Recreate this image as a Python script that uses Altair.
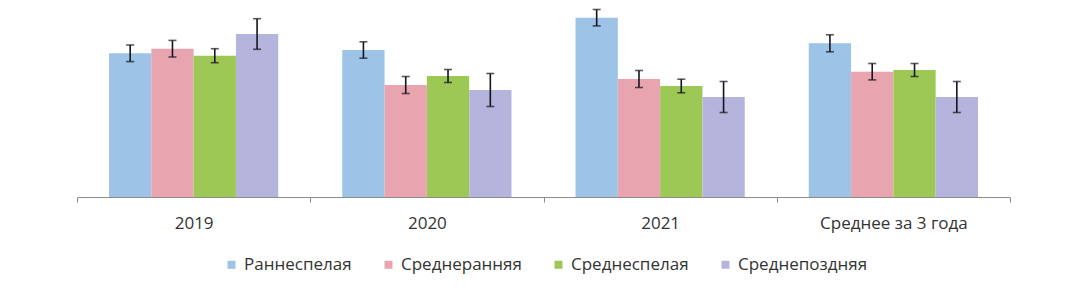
import altair as alt
import pandas as pd

categories = ["2019", "2020", "2021", "Среднее за 3 года"]
series = ["Раннеспелая", "Среднеранняя", "Среднеспелая", "Среднепоздняя"]
colors = ["#9dc3e6", "#e8a5af", "#9dc856", "#b4b4dc"]

# values (arbitrary units)
values = {
    "Раннеспелая":   [143.7, 147.0, 179.3, 153.7],
    "Среднеранняя":  [148.3, 112.0, 118.0, 125.3],
    "Среднеспелая":  [141.3, 121.0, 111.0, 127.0],
    "Среднепоздняя": [163.0, 107.0, 100.0, 100.0],
}
errors = {
    "Раннеспелая":   [8.3, 8.2, 8.2, 8.5],
    "Среднеранняя":  [8.3, 8.5, 8.5, 8.2],
    "Среднеспелая":  [7.0, 6.5, 6.8, 6.5],
    "Среднепоздняя": [15.3, 16.5, 15.5, 15.5],
}

rows = []
for s in series:
    for c, v, e in zip(categories, values[s], errors[s]):
        rows.append({"cat": c, "series": s, "value": v, "low": v - e, "high": v + e})
df = pd.DataFrame(rows)

x = alt.X("cat:N", sort=categories, title=None,
          scale=alt.Scale(paddingInner=0, paddingOuter=0),
          axis=alt.Axis(tickBand="extent", labelAngle=0, tickSize=5,
                        labelPadding=13, labelFontSize=17, labelColor="#333333",
                        labelFont="Open Sans", domainColor="#8c8c8c",
                        tickColor="#8c8c8c", labelFontWeight="normal"))
xo = alt.XOffset("series:N", sort=series,
                 scale=alt.Scale(paddingInner=0, paddingOuter=0.757))
yscale = alt.Scale(domain=[0, 185], nice=False, zero=True)

base = alt.Chart(df)

bars = base.mark_bar().encode(
    x=x, xOffset=xo,
    y=alt.Y("value:Q", scale=yscale, axis=None),
    color=alt.Color("series:N", sort=series,
                    scale=alt.Scale(domain=series, range=colors),
                    legend=alt.Legend(title=None, orient="none", direction="horizontal",
                                      legendX=146, legendY=244,
                                      symbolType="square", symbolSize=64,
                                      symbolStrokeWidth=0, labelFontSize=17,
                                      labelFont="Open Sans", labelColor="#333333",
                                      columnPadding=28, labelOffset=4)),
)

ecol = "#15151f"
rule = base.mark_rule(color=ecol, strokeWidth=1.6).encode(
    x=x, xOffset=xo,
    y=alt.Y("low:Q", scale=yscale, axis=None), y2="high:Q",
)
cap_lo = base.mark_tick(color=ecol, size=8, thickness=1.6).encode(
    x=x, xOffset=xo, y=alt.Y("low:Q", scale=yscale, axis=None))
cap_hi = base.mark_tick(color=ecol, size=8, thickness=1.6).encode(
    x=x, xOffset=xo, y=alt.Y("high:Q", scale=yscale, axis=None))

chart = alt.layer(bars, rule, cap_lo, cap_hi).properties(
    width=933, height=185,
    autosize=alt.AutoSizeParams(type="none"),
    padding={"left": 69, "top": 4, "right": 10, "bottom": 90},
).configure_view(strokeWidth=0, stroke="transparent")

chart.save("out.html", embed_options={"renderer": "svg", "actions": False})
